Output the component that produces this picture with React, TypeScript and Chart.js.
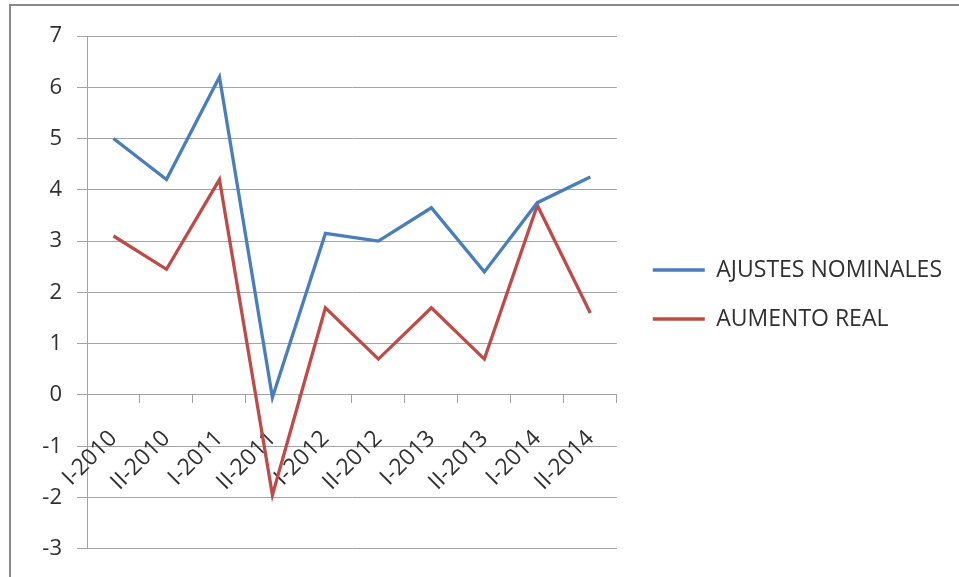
import React, { useEffect, useRef } from "react";
import { Chart, registerables } from "chart.js";

Chart.register(...registerables);

const categories = [
  "I-2010", "II-2010", "I-2011", "II-2011", "I-2012",
  "II-2012", "I-2013", "II-2013", "I-2014", "II-2014",
];
const ajustesNominales = [5.0, 4.2, 6.2, -0.05, 3.15, 3.0, 3.65, 2.4, 3.75, 4.25];
const aumentoReal = [3.1, 2.45, 4.2, -1.95, 1.7, 0.7, 1.7, 0.7, 3.7, 1.6];
const yMin = -3;
const yMax = 7;
const yStep = 1;

const FONT = "'Open Sans', 'Noto Sans', sans-serif";
const TEXT = "#303030";
const GRID = "#a3a3a3";

export default function App() {
  const ref = useRef<HTMLCanvasElement | null>(null);

  useEffect(() => {
    if (!ref.current) return;
    const chart = new Chart(ref.current, {
      type: "line",
      data: {
        labels: categories,
        datasets: [
          {
            label: "AJUSTES NOMINALES",
            data: ajustesNominales,
            borderColor: "#4a7ebb",
            backgroundColor: "#4a7ebb",
            borderWidth: 3.3,
            pointRadius: 0,
            tension: 0,
          },
          {
            label: "AUMENTO REAL",
            data: aumentoReal,
            borderColor: "#be4b48",
            backgroundColor: "#be4b48",
            borderWidth: 3.3,
            pointRadius: 0,
            tension: 0,
          },
        ],
      },
      options: {
        responsive: false,
        animation: false,
        layout: { padding: { top: 36, bottom: 24, left: 0, right: 7 } },
        plugins: {
          tooltip: { enabled: false },
          legend: {
            position: "right",
            maxWidth: 420,
            labels: {
              usePointStyle: true,
              pointStyle: "line",
              pointStyleWidth: 52,
              padding: 26,
              color: TEXT,
              font: { family: FONT, size: 23 },
            },
          },
        },
        scales: {
          y: {
            type: "linear",
            position: "left",
            min: yMin,
            max: yMax,
            ticks: {
              stepSize: yStep,
              padding: 15,
              color: TEXT,
              font: { family: FONT, size: 22 },
            },
            grid: { color: GRID, lineWidth: 1, tickLength: 10 },
            border: { display: true, color: GRID, width: 1 },
            afterFit: (s: any) => {
              s.width = 87;
            },
          },
          gap: {
            type: "linear",
            position: "right",
            display: true,
            ticks: { display: false },
            grid: { display: false },
            border: { display: false },
            afterFit: (s: any) => {
              s.width = 10;
            },
          },
          x: {
            type: "category",
            position: { y: 0 },
            offset: true,
            ticks: {
              minRotation: 45,
              maxRotation: 45,
              autoSkip: false,
              padding: 22,
              color: TEXT,
              font: { family: FONT, size: 23 },
            },
            grid: {
              offset: true,
              drawOnChartArea: false,
              drawTicks: true,
              tickLength: 8,
              color: GRID,
            },
            border: { display: true, color: GRID, width: 1 },
          },
        },
      } as any,
    });
    return () => chart.destroy();
  }, []);

  return (
    <div style={{ position: "fixed", left: 0, top: 0, width: 959, height: 577, background: "#fff" }}>
      <canvas ref={ref} width={959} height={577} style={{ display: "block" }} />
      <div
        style={{
          position: "absolute",
          left: 9,
          top: 4,
          right: -10,
          bottom: -10,
          borderTop: "2px solid #8a8a8a",
          borderLeft: "2px solid #8a8a8a",
          pointerEvents: "none",
        }}
      />
    </div>
  );
}
